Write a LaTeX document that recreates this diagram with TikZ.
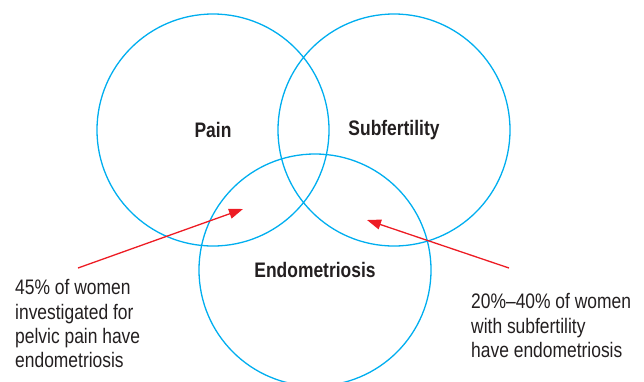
\documentclass[tikz,border=0pt]{standalone}
\usepackage{fontspec}
\usepackage{xcolor}
\usepackage{tikz}
\usetikzlibrary{calc, arrows.meta, positioning}
\newfontfamily\condfont[FakeStretch=0.83]{Liberation Sans}
\definecolor{vennblue}{RGB}{0, 174, 239}
\definecolor{arrowred}{RGB}{237, 28, 36}
\definecolor{inkgray}{RGB}{35, 31, 32}
\tikzset{
    circlenode/.style = {circle, draw=vennblue, line width=1.3pt, inner sep = 0em, node distance=0em,
      minimum size=232pt, text=inkgray, font=\condfont\bfseries\fontsize{21}{24}\selectfont},
    textnode/.style  = {draw=none, fill=none, rectangle, inner sep = 0em, node distance=0em,
      align=left, text=inkgray, font=\condfont\fontsize{21}{24.3}\selectfont},
    connect/.style = {arrowred, line width=1.3pt, -{Triangle[length=14pt, width=10pt]}}
}

\begin{document}
\begin{tikzpicture}[x=1pt, y=-1pt]
\useasboundingbox (0,0) rectangle (644,381);
\node [circlenode, name=pain] at (213,130) {Pain};
\node [circlenode, name=subfertility, right of=pain, xshift=181pt] {Subfertility};
\node [circlenode, name=endo, below of=pain, xshift=102pt, yshift=-140pt] {Endometriosis};

\node [textnode, name=paintext, anchor=north west] at (15,279.5)
  {45\% of women\\investigated for\\pelvic pain have\\endometriosis};
\node [textnode, name=subtext, anchor=north west] at (471,293.5)
  {20\%\textendash40\% of women\\with subfertility\\have endometriosis};

\coordinate (paintail) at (78,268);
\coordinate (paintip) at (243,209);
\coordinate (subtail) at (509,268);
\coordinate (subtip) at (367,220);
\draw [connect] (paintail) -- (paintip);
\draw [connect] (subtail) -- (subtip);
\end{tikzpicture}
\end{document}
